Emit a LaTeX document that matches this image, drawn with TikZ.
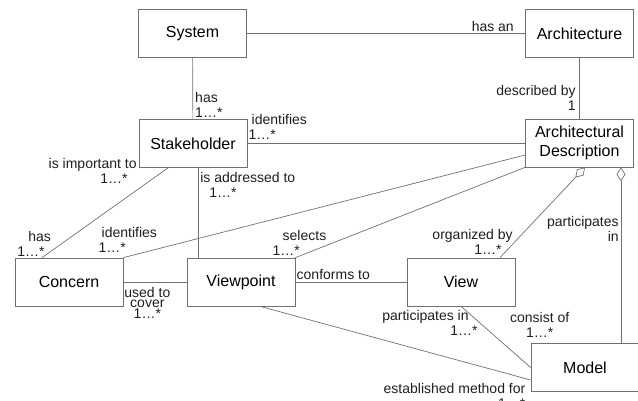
\documentclass[tikz,border=0pt]{standalone}
\usepackage{fontspec}
\setmainfont{Liberation Sans}
\usetikzlibrary{arrows.meta}
\begin{document}
\begin{tikzpicture}[x=1pt, y=-1pt, line width=0.7pt,
	box/.style={draw=linegray, fill=white, minimum width=108pt, minimum height=48pt,
		inner sep=2pt, align=center, font=\fontsize{16}{19}\selectfont},
	conn/.style={draw=linegray},
	lbl/.style={inner sep=1pt, text=textgray, font=\fontsize{14}{15}\selectfont},
	agg/.style={conn, {Diamond[open, length=14pt, width=9pt, line width=0.7pt]}-}]
	\definecolor{linegray}{RGB}{112, 112, 112}
	\definecolor{textgray}{RGB}{30, 30, 30}
	\useasboundingbox (0,0) rectangle (638,401);
	
	% 类框
	\node[box] (system) at (192.5,33.5) {System};
	\node[box] (arch) at (579.5,33.5) {Architecture};
	\node[box] (stake) at (193,143.5) {Stakeholder};
	\node[box] (archdesc) at (579.5,143) {Architectural\\Description};
	\node[box] (concern) at (69,282) {Concern};
	\node[box] (viewpt) at (241,282) {Viewpoint};
	\node[box] (view) at (461,282) {View};
	\node[box] (model) at (585,367.5) {Model};
	
	% 上部关联
	\draw[conn] (system) -- (arch)
		node[lbl, at end, anchor=south east, xshift=-10pt, yshift=1pt] (hasan) {has an};
	\draw[conn] (system) -- (stake)
		node[lbl, at end, anchor=south west, xshift=1pt, align=left] (hasstake) {has\\1…*};
	\draw[conn] (arch) -- (archdesc)
		node[lbl, at end, anchor=south east, xshift=-2.5pt, yshift=7pt, align=right] (descby) {described by\\1};
	\draw[conn] (stake) -- (archdesc.west |- stake.east)
		node[lbl, at start, anchor=south west, yshift=2.5pt, align=left] (identstake) {\hspace*{3pt}identifies\\1…*};
	
	% Stakeholder 下方的关联
	\draw[conn] ([xshift=-25pt]stake.south) -- ([xshift=-27pt]concern.north)
		node[lbl, at start, anchor=north east, xshift=-30pt, yshift=10.5pt, align=right] (important) {is important to\\1…*\hspace*{9pt}}
		node[lbl, at end, anchor=south west, xshift=-26pt, align=left] (hasconcern) {\hspace*{11pt}has\\1…*};
	\draw[conn] ([xshift=5pt]stake.south) -- ([xshift=5pt]stake.south |- viewpt.north)
		node[lbl, at start, anchor=north west, xshift=1pt, yshift=-3.5pt, align=left] (addressed) {is addressed to\\\hspace*{9pt}1…*};
	
	% Architectural Description 的关联
	\draw[conn] ([yshift=-12pt]archdesc.west) -- (concern.north east)
		node[lbl, at end, anchor=south west, xshift=-26pt, yshift=3.5pt, align=left] (identconcern) {\hspace*{3pt}identifies\\1…*};
	\draw[conn] (archdesc.south west) -- (viewpt.north east)
		node[lbl, at end, anchor=south west, xshift=-24pt, yshift=0.5pt, align=left] (selects) {\hspace*{10pt}selects\\1…*};
	\draw[agg] ([xshift=5.5pt]archdesc.south) -- ([xshift=39pt]view.north)
		node[lbl, at end, anchor=south east, xshift=14pt, yshift=1.5pt, align=right] (organized) {organized by\\1…*\hspace*{11pt}};
	\draw[agg] ([xshift=41.5pt]archdesc.south) -- ([xshift=36pt]model.north)
		node[lbl, pos=0.27, anchor=north east, xshift=-1pt, align=right] (partmodel) {participates\\in};
	
	% 中部关联
	\draw[conn] (concern) -- (viewpt)
		node[lbl, at start, anchor=north, xshift=24pt, yshift=-4pt, align=center,
			font=\fontsize{14}{10.5}\selectfont] (usedto) {used to\\cover\\1…*};
	\draw[conn] (viewpt) -- (view)
		node[lbl, at start, anchor=south west, yshift=1pt] (conforms) {conforms to};
	
	% Model 的关联
	\draw[conn] (view.south) -- (model.west)
		node[lbl, at start, anchor=north east, xshift=9pt, yshift=-2.5pt, align=right] (partview) {participates in\\1…*\hspace*{-9pt}}
		node[lbl, at end, anchor=south, xshift=9pt, yshift=28.5pt, align=center] (consist) {consist of\\1…*};
	\draw[conn] ([xshift=19pt]viewpt.south) -- ([yshift=-12.5pt]model.west)
		node[lbl, at end, anchor=north east, xshift=-4pt, yshift=-2pt, align=right] (method) {established method for\\1…*};
\end{tikzpicture}
\end{document}
